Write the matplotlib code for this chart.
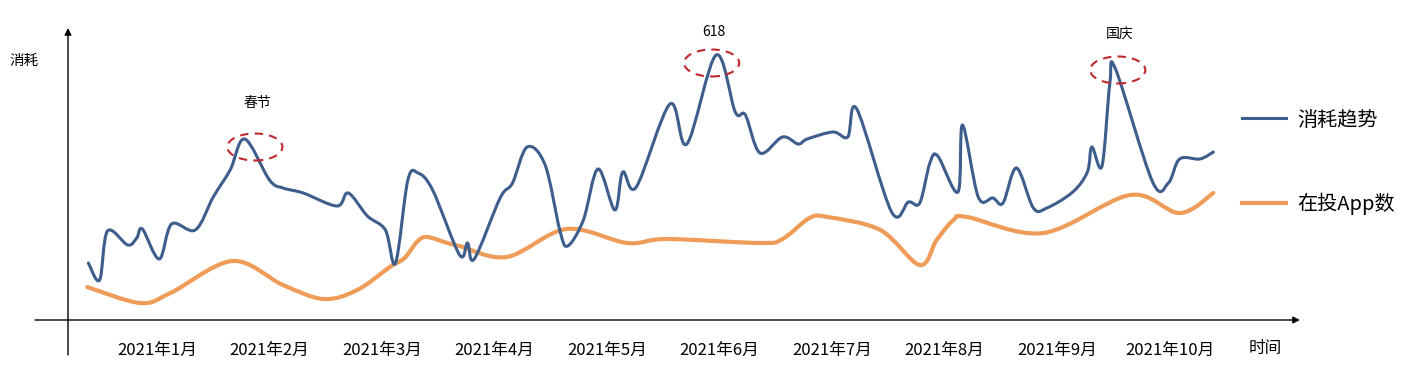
import numpy as np
import matplotlib
matplotlib.use('Agg')
import matplotlib.pyplot as plt
from matplotlib.path import Path
from matplotlib.patches import PathPatch, Ellipse
from matplotlib.lines import Line2D

plt.rcParams['font.family'] = ['Noto Sans CJK SC', 'DejaVu Sans']

# x in months (1.0 = "2021年1月" label), y in arbitrary spend units
cost_x = [0.39, 0.49, 0.56, 0.74, 0.82, 0.87, 1.02, 1.13, 1.34, 1.50, 1.65, 1.78,
          2.00, 2.12, 2.30, 2.60, 2.70, 2.87, 3.03, 3.12, 3.23, 3.32, 3.45, 3.69,
          3.76, 3.82, 4.05, 4.16, 4.29, 4.45, 4.58, 4.65, 4.79, 4.92, 5.07, 5.14,
          5.26, 5.56, 5.71, 5.97, 6.14, 6.23, 6.36, 6.56, 6.70, 6.78, 7.01, 7.14,
          7.22, 7.53, 7.68, 7.78, 7.87, 7.94, 8.12, 8.16, 8.30, 8.43, 8.52, 8.64,
          8.79, 8.91, 9.14, 9.27, 9.31, 9.40, 9.47, 9.52, 9.85, 9.99, 10.09, 10.27,
          10.39]
cost_y = [28.5, 20, 44.5, 37.5, 41, 45.5, 30.5, 48, 45, 61.5, 75, 90.5,
          70, 66, 63.5, 57, 63.5, 52, 45, 28.5, 70, 73.5, 65, 32.5,
          38.5, 30.5, 61, 68.5, 86.5, 77.5, 45, 37, 50, 75.5, 55, 74,
          66.5, 108, 88, 132.5, 104, 102.5, 83.5, 91.5, 88, 90.5, 94, 91.5,
          105.5, 54, 59, 58.5, 78.5, 82, 64, 97.5, 61.5, 61, 58.5, 76,
          56, 56, 64, 74, 86.5, 77, 118.5, 125.5, 69, 68.5, 80.5, 80.5,
          84]

apps_x = [0.38, 0.85, 1.12, 1.67, 2.12, 2.48, 2.78, 3.07, 3.20, 3.31, 3.40, 3.58,
          3.69, 4.11, 4.64, 5.18, 5.53, 6.36, 6.56, 6.80, 6.96, 7.43, 7.78, 7.93,
          8.08, 8.20, 8.88, 9.65, 10.09, 10.39]
apps_y = [16.5, 8.5, 13.5, 29.5, 17.5, 10.5, 15, 26.5, 31, 39, 41.5, 38.5,
          37, 31.5, 45.5, 38.5, 40.5, 38.5, 40.5, 51, 51.5, 45, 27.5, 40,
          50, 51.5, 43.5, 62.5, 53.5, 63.5]

months = [1, 2, 3, 4, 5, 6, 7, 8, 9, 10]
month_labels = ['2021年%d月' % m for m in months]

events = ['春节', '618', '国庆']
event_x = [1.87, 5.93, 9.54]
event_y = [86.5, 128.5, 125]
event_label_y = [108.5, 144, 142.5]

blue = '#3D5D8D'
orange = '#EE9C57'
red = '#C0282D'


def smooth_path(x, y):
    # Catmull-Rom style cubic bezier through the points (like Excel's smoothed line)
    pts = np.column_stack([x, y])
    p = np.vstack([pts[0], pts, pts[-1]])
    verts = [pts[0]]
    codes = [Path.MOVETO]
    for i in range(1, len(p) - 2):
        c1 = p[i] + (p[i + 1] - p[i - 1]) / 6
        c2 = p[i + 1] - (p[i + 2] - p[i]) / 6
        verts += [c1, c2, p[i + 1]]
        codes += [Path.CURVE4] * 3
    return Path(verts, codes)


fig = plt.figure(figsize=(14.2, 3.7), dpi=100)
ax = fig.add_axes([0, 0, 1, 1])
ax.set_xlim(-0.3956, 12.2267)
ax.set_ylim(-25, 160)
ax.axis('off')

ax.add_patch(PathPatch(smooth_path(apps_x, apps_y), fill=False, edgecolor=orange,
                       lw=3.0, capstyle='round', joinstyle='round'))
ax.add_patch(PathPatch(smooth_path(cost_x, cost_y), fill=False, edgecolor=blue,
                       lw=2.2, capstyle='round', joinstyle='round'))

# axes with arrows
ax.annotate('', xy=(11.16, 0), xytext=(-0.084, 0),
            arrowprops=dict(arrowstyle='-|>', color='black', lw=1.0,
                            mutation_scale=10, shrinkA=0, shrinkB=0))
ax.annotate('', xy=(0.209, 146), xytext=(0.209, -17.5),
            arrowprops=dict(arrowstyle='-|>', color='black', lw=1.0,
                            mutation_scale=10, shrinkA=0, shrinkB=0))

for m, lab in zip(months, month_labels):
    ax.text(m, -15, lab, ha='center', va='center', fontsize=12)
ax.text(10.85, -14, '时间', ha='center', va='center', fontsize=12)
ax.text(-0.18, 129.5, '消耗', ha='center', va='center', fontsize=10.5)

for name, ex, ey, ly in zip(events, event_x, event_y, event_label_y):
    ax.add_patch(Ellipse((ex, ey), 0.49, 13.5, fill=False, edgecolor=red,
                         lw=1.5, linestyle=(0, (4, 3))))
    ax.text(ex + 0.02, ly, name, ha='center', va='center', fontsize=10)

handles = [Line2D([], [], color=blue, lw=2.2), Line2D([], [], color=orange, lw=3.0)]
fig.legend(handles, ['消耗趋势', '在投App数'], loc='upper left',
           bbox_to_anchor=(0.8746, 0.704), frameon=False, fontsize=14.5,
           handlelength=2.2, handletextpad=0.55, labelspacing=3.1,
           borderpad=0, borderaxespad=0)

fig.savefig('out.png', dpi=100)
